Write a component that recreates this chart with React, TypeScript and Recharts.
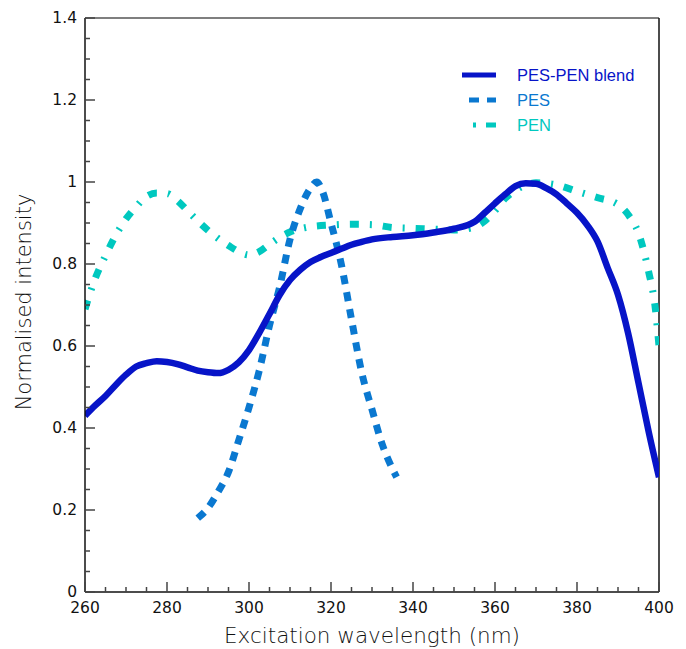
import React from 'react';
import { LineChart, Line, XAxis, YAxis, Legend, ReferenceLine } from 'recharts';

const blendData = [
  { nm: 260, v: 0.43 }, { nm: 262.5, v: 0.455 }, { nm: 265, v: 0.478 }, { nm: 267.5, v: 0.505 },
  { nm: 270, v: 0.53 }, { nm: 272.5, v: 0.55 }, { nm: 275, v: 0.558 }, { nm: 277.5, v: 0.563 },
  { nm: 280, v: 0.561 }, { nm: 282.5, v: 0.556 }, { nm: 285, v: 0.548 }, { nm: 287.5, v: 0.54 },
  { nm: 290, v: 0.536 }, { nm: 292.5, v: 0.534 }, { nm: 295, v: 0.542 }, { nm: 297.5, v: 0.56 },
  { nm: 300, v: 0.59 }, { nm: 302.5, v: 0.632 }, { nm: 305, v: 0.678 }, { nm: 307.5, v: 0.725 },
  { nm: 310, v: 0.761 }, { nm: 312.5, v: 0.786 }, { nm: 315, v: 0.805 }, { nm: 317.5, v: 0.817 },
  { nm: 320, v: 0.827 }, { nm: 322.5, v: 0.837 }, { nm: 325, v: 0.847 }, { nm: 327.5, v: 0.854 },
  { nm: 330, v: 0.86 }, { nm: 335, v: 0.866 }, { nm: 340, v: 0.87 }, { nm: 345, v: 0.877 },
  { nm: 350, v: 0.886 }, { nm: 355, v: 0.903 }, { nm: 357.5, v: 0.925 }, { nm: 360, v: 0.948 },
  { nm: 362.5, v: 0.97 }, { nm: 365, v: 0.99 }, { nm: 367.5, v: 0.997 }, { nm: 370, v: 0.996 },
  { nm: 372.5, v: 0.985 }, { nm: 375, v: 0.97 }, { nm: 377.5, v: 0.948 }, { nm: 380, v: 0.925 },
  { nm: 382.5, v: 0.895 }, { nm: 385, v: 0.855 }, { nm: 387.5, v: 0.79 }, { nm: 390, v: 0.725 },
  { nm: 392.5, v: 0.63 }, { nm: 395, v: 0.51 }, { nm: 397.5, v: 0.39 }, { nm: 400, v: 0.28 },
];

const pesData = [
  { nm: 287.5, v: 0.18 }, { nm: 290, v: 0.205 }, { nm: 292.5, v: 0.245 }, { nm: 295, v: 0.293 },
  { nm: 297.5, v: 0.37 }, { nm: 300, v: 0.45 }, { nm: 302.5, v: 0.54 }, { nm: 305, v: 0.65 },
  { nm: 307.5, v: 0.745 }, { nm: 310, v: 0.86 }, { nm: 312.5, v: 0.935 }, { nm: 315, v: 0.985 },
  { nm: 316.5, v: 1.0 }, { nm: 318, v: 0.975 }, { nm: 320, v: 0.9 }, { nm: 322.5, v: 0.8 },
  { nm: 325, v: 0.665 }, { nm: 327.5, v: 0.535 }, { nm: 330, v: 0.445 }, { nm: 332.5, v: 0.36 },
  { nm: 335, v: 0.3 }, { nm: 336, v: 0.28 },
];

const penData = [
  { nm: 260, v: 0.69 }, { nm: 262.5, v: 0.765 }, { nm: 265, v: 0.82 }, { nm: 267.5, v: 0.87 },
  { nm: 270, v: 0.91 }, { nm: 272.5, v: 0.94 }, { nm: 275, v: 0.965 }, { nm: 277.5, v: 0.973 },
  { nm: 280, v: 0.972 }, { nm: 282.5, v: 0.955 }, { nm: 285, v: 0.93 }, { nm: 287.5, v: 0.905 },
  { nm: 290, v: 0.882 }, { nm: 292.5, v: 0.862 }, { nm: 295, v: 0.845 }, { nm: 297.5, v: 0.83 },
  { nm: 300, v: 0.822 }, { nm: 302.5, v: 0.83 }, { nm: 305, v: 0.848 }, { nm: 307.5, v: 0.865 },
  { nm: 310, v: 0.878 }, { nm: 315, v: 0.891 }, { nm: 320, v: 0.895 }, { nm: 325, v: 0.897 },
  { nm: 330, v: 0.896 }, { nm: 335, v: 0.889 }, { nm: 340, v: 0.887 }, { nm: 345, v: 0.885 },
  { nm: 350, v: 0.883 }, { nm: 355, v: 0.89 }, { nm: 357.5, v: 0.905 }, { nm: 360, v: 0.93 },
  { nm: 362.5, v: 0.96 }, { nm: 365, v: 0.98 }, { nm: 367.5, v: 0.993 }, { nm: 370, v: 0.998 },
  { nm: 375, v: 0.993 }, { nm: 380, v: 0.977 }, { nm: 385, v: 0.962 }, { nm: 390, v: 0.945 },
  { nm: 392.5, v: 0.92 }, { nm: 395, v: 0.875 }, { nm: 397.5, v: 0.78 }, { nm: 399, v: 0.7 },
  { nm: 400, v: 0.6 },
];

const xTicks = [
  260, 265, 270, 275, 280, 285, 290, 295, 300, 305, 310, 315, 320, 325, 330, 335,
  340, 345, 350, 355, 360, 365, 370, 375, 380, 385, 390, 395, 400,
];
const xMajor = [260, 280, 300, 320, 340, 360, 380, 400];

const yTicks = [
  0, 0.05, 0.1, 0.15, 0.2, 0.25, 0.3, 0.35, 0.4, 0.45, 0.5, 0.55, 0.6, 0.65, 0.7,
  0.75, 0.8, 0.85, 0.9, 0.95, 1, 1.05, 1.1, 1.15, 1.2, 1.25, 1.3, 1.35, 1.4,
];
const yMajor = [0, 0.2, 0.4, 0.6, 0.8, 1, 1.2, 1.4];

const series = [
  { name: 'PES-PEN blend', color: '#0714c8' },
  { name: 'PES', color: '#0a78d0' },
  { name: 'PEN', color: '#00c8bf' },
];

const tickFont = '"DejaVu Sans", sans-serif';
const legendFont = '"Liberation Sans", Arial, sans-serif';
const titleFont = '"DejaVu Sans", sans-serif';

function XTick(props: any) {
  const { x, y, payload } = props;
  const major = xMajor.includes(payload.value);
  return (
    <g>
      <line x1={x} x2={x} y1={y} y2={y - (major ? 10 : 5)} stroke="#444" strokeWidth={1.5} />
      {major && (
        <text x={x} y={y + 16} textAnchor="middle" dominantBaseline="central" fontSize={15.5} fontFamily={tickFont} fill="#111">
          {payload.value}
        </text>
      )}
    </g>
  );
}

function YTick(props: any) {
  const { x, y, payload } = props;
  const major = yMajor.some((m) => Math.abs(m - payload.value) < 1e-6);
  return (
    <g>
      <line x1={x} x2={x + (major ? 10 : 5)} y1={y} y2={y} stroke="#444" strokeWidth={1.5} />
      {major && (
        <text x={x - 8} y={y} textAnchor="end" dominantBaseline="central" fontSize={15.5} fontFamily={tickFont} fill="#111">
          {String(payload.value)}
        </text>
      )}
    </g>
  );
}

function LegendBox() {
  return (
    <svg width={200} height={80}>
      <line x1={7} x2={41} y1={15} y2={15} stroke={series[0].color} strokeWidth={5} />
      <line x1={14} x2={41} y1={40} y2={40} stroke={series[1].color} strokeWidth={5} strokeDasharray="10 8" />
      <line x1={18} x2={41} y1={65} y2={65} stroke={series[2].color} strokeWidth={5} strokeDasharray="3 10 10" />
      {series.map((s, i) => (
        <text key={s.name} x={62} y={15 + i * 25} dominantBaseline="central" fontSize={16.5} fontFamily={legendFont} fill={s.color}>
          {s.name}
        </text>
      ))}
    </svg>
  );
}

export default function App() {
  return (
    <div style={{ position: 'absolute', left: 0, top: 0, background: '#fff' }}>
      <LineChart width={686} height={649} margin={{ top: 18, right: 27, bottom: 7, left: 15 }}>
        <XAxis
          dataKey="nm"
          type="number"
          domain={[260, 400]}
          ticks={xTicks}
          interval={0}
          tickSize={0}
          tickMargin={0}
          tickLine={false}
          tick={(p: any) => <XTick {...p} />}
          height={50}
          axisLine={{ stroke: '#111', strokeWidth: 1.5 }}
          allowDataOverflow
          label={{
            content: () => (
              <text x={372} y={643} textAnchor="middle" fontSize={21.5} fontWeight={200} fontFamily={titleFont} fill="#111">
                Excitation wavelength (nm)
              </text>
            ),
          }}
        />
        <YAxis
          type="number"
          domain={[0, 1.4]}
          ticks={yTicks}
          interval={0}
          tickSize={0}
          tickMargin={0}
          tickLine={false}
          tick={(p: any) => <YTick {...p} />}
          width={70}
          axisLine={{ stroke: '#111', strokeWidth: 1.5 }}
          allowDataOverflow
          label={{
            content: () => (
              <text x={24} y={302} transform="rotate(-90 24 302)" textAnchor="middle" dominantBaseline="central" fontSize={21} fontWeight={200} fontFamily={titleFont} fill="#111">
                Normalised intensity
              </text>
            ),
          }}
        />
        <ReferenceLine y={1.4} stroke="#555" strokeWidth={1.5} />
        <ReferenceLine x={400} stroke="#111" strokeWidth={1.5} />
        <Legend
          layout="vertical"
          align="center"
          verticalAlign="middle"
          content={() => <LegendBox />}
          wrapperStyle={{ position: 'absolute', left: 455, top: 60, width: 200 }}
        />
        <Line data={penData} dataKey="v" name="PEN" type="monotone" stroke={series[2].color} strokeWidth={7} strokeDasharray="9 11 2 11" dot={false} isAnimationActive={false} />
        <Line data={pesData} dataKey="v" name="PES" type="monotone" stroke={series[1].color} strokeWidth={7} strokeDasharray="9 8" dot={false} isAnimationActive={false} />
        <Line data={blendData} dataKey="v" name="PES-PEN blend" type="monotone" stroke={series[0].color} strokeWidth={6.5} dot={false} isAnimationActive={false} />
      </LineChart>
    </div>
  );
}
